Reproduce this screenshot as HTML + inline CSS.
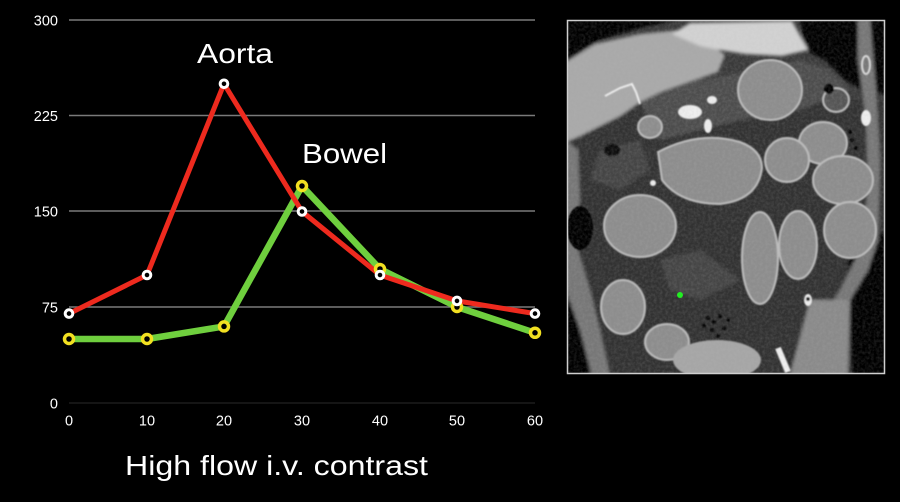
<!DOCTYPE html>
<html><head><meta charset="utf-8"><style>
html,body{margin:0;padding:0;background:#000;}
svg{display:block;}
</style></head><body>
<svg width="900" height="502" viewBox="0 0 900 502" xmlns="http://www.w3.org/2000/svg">
<defs>
<filter id="bl" x="-10%" y="-10%" width="120%" height="120%"><feGaussianBlur stdDeviation="1.6"/></filter>
<filter id="bl2" x="-10%" y="-10%" width="120%" height="120%"><feGaussianBlur stdDeviation="0.8"/></filter>
<filter id="noise" x="0" y="0" width="100%" height="100%">
<feTurbulence type="fractalNoise" baseFrequency="0.35" numOctaves="2" seed="4"/>
<feColorMatrix type="matrix" values="0 0 0 0 0.5  0 0 0 0 0.5  0 0 0 0 0.5  0 0 0 1.2 -0.4"/>
</filter>
<clipPath id="ct"><rect x="568" y="21" width="316" height="352"/></clipPath>
</defs>
<rect width="900" height="502" fill="#000"/>

<!-- grid -->
<g stroke="#7a7a7a" stroke-width="1.5">
<line x1="69" y1="20" x2="535" y2="20"/>
<line x1="69" y1="115.5" x2="535" y2="115.5"/>
<line x1="69" y1="211" x2="535" y2="211"/>
<line x1="69" y1="307" x2="535" y2="307"/>
</g>
<line x1="69" y1="403" x2="535" y2="403" stroke="#1c1c1c" stroke-width="1.5"/>

<!-- y labels -->
<g font-family="'Liberation Sans', Arial, sans-serif" font-size="14.5" fill="#fff" text-anchor="end">
<text x="58" y="25.5">300</text>
<text x="58" y="121">225</text>
<text x="58" y="216.5">150</text>
<text x="58" y="312.5">75</text>
<text x="58" y="408.5">0</text>
</g>
<g font-family="'Liberation Sans', Arial, sans-serif" font-size="14.5" fill="#fff" text-anchor="middle">
<text x="69" y="425.5">0</text>
<text x="147" y="425.5">10</text>
<text x="224" y="425.5">20</text>
<text x="302" y="425.5">30</text>
<text x="380" y="425.5">40</text>
<text x="457" y="425.5">50</text>
<text x="535" y="425.5">60</text>
</g>

<!-- series -->
<polyline points="69,339 147,339 224,326.4 302,186 380,269 457,307 535,332.8" fill="none" stroke="#6fcf3e" stroke-width="6.5" stroke-linejoin="round" stroke-linecap="round"/>
<polyline points="69,313.6 147,275 224,83.8 302,211.5 380,275 457,300.9 535,313.6" fill="none" stroke="#ee2a1e" stroke-width="5" stroke-linejoin="round" stroke-linecap="round"/>
<g fill="#000" stroke="#f2e021" stroke-width="3.5">
<circle cx="69" cy="339" r="4.5"/>
<circle cx="147" cy="339" r="4.5"/>
<circle cx="224" cy="326.4" r="4.5"/>
<circle cx="302" cy="186" r="4.5"/>
<circle cx="380" cy="269" r="4.5"/>
<circle cx="457" cy="307" r="4.5"/>
<circle cx="535" cy="332.8" r="4.5"/>
</g>
<g fill="#000" stroke="#fff" stroke-width="3">
<circle cx="69" cy="313.6" r="3.8"/>
<circle cx="147" cy="275" r="3.8"/>
<circle cx="224" cy="83.8" r="3.8"/>
<circle cx="302" cy="211.5" r="3.8"/>
<circle cx="380" cy="275" r="3.8"/>
<circle cx="457" cy="300.9" r="3.8"/>
<circle cx="535" cy="313.6" r="3.8"/>
</g>

<!-- labels -->
<g font-family="'Liberation Sans', Arial, sans-serif" font-size="28" fill="#fff">
<text x="197" y="63" textLength="76" lengthAdjust="spacingAndGlyphs">Aorta</text>
<text x="302" y="163" textLength="85" lengthAdjust="spacingAndGlyphs">Bowel</text>
<text x="125" y="475" textLength="303" lengthAdjust="spacingAndGlyphs">High flow i.v. contrast</text>
</g>

<!-- CT image -->
<g clip-path="url(#ct)">
<rect x="566" y="19" width="320" height="356" fill="#3a3a3a"/>
<g filter="url(#bl)">
<rect x="566" y="100" width="320" height="275" fill="#313131"/>
<polygon points="566,19 682,19 640,28 600,40 566,62" fill="#000"/>
<polygon points="800,19 862,19 862,90 845,80 825,60 805,50" fill="#000"/>
<polygon points="868,19 886,19 886,95 872,92" fill="#000"/>
<polygon points="848,260 886,230 886,375 852,375 850,320" fill="#000"/>
<polygon points="566,290 576,300 584,340 590,375 566,375" fill="#000"/>
<polygon points="858,20 870,20 876,90 880,160 878,240 868,270 850,300 840,330 835,375 800,375 815,330 840,290 860,250 868,190 866,120 858,60" fill="#777"/>
<polygon points="810,300 850,300 848,375 790,375" fill="#8a8a8a"/>
<polygon points="566,140 578,150 580,200 575,240 590,290 600,330 610,375 592,375 580,330 566,290" fill="#777"/>
<polygon points="566,62 595,44 640,34 680,30 705,40 725,55 718,72 690,82 662,92 640,102 620,116 600,126 580,136 566,142" fill="#a9a9a9"/>
<polygon points="672,34 690,23 792,21 808,50 782,56 745,54 720,50 700,46" fill="#d2d2d2"/>
<polygon points="640,102 700,80 760,70 800,60 830,70 850,90 800,110 740,120 700,130 660,140" fill="#4e4e4e"/>
<polygon points="600,150 640,140 650,170 620,190 590,180" fill="#454545"/>
<polygon points="660,260 700,250 740,280 700,300 670,290" fill="#454545"/>
</g>
<g filter="url(#bl2)">
<g fill="#8d8d8d" stroke="#bdbdbd" stroke-width="2">
<ellipse cx="770" cy="90" rx="32" ry="30"/>
<path d="M658,152 Q700,130 740,142 Q762,150 762,168 Q758,200 720,204 Q680,204 662,180 Z"/>
<ellipse cx="823" cy="143" rx="24" ry="21"/>
<ellipse cx="787" cy="160" rx="22" ry="22"/>
<ellipse cx="843" cy="180" rx="30" ry="24"/>
<ellipse cx="850" cy="230" rx="26" ry="28"/>
<ellipse cx="760" cy="258" rx="18" ry="46"/>
<ellipse cx="798" cy="245" rx="19" ry="34"/>
<ellipse cx="640" cy="226" rx="36" ry="31"/>
<ellipse cx="623" cy="307" rx="22" ry="27"/>
<ellipse cx="667" cy="342" rx="22" ry="18"/>
<ellipse cx="650" cy="127" rx="12" ry="11"/>
<ellipse cx="836" cy="100" rx="13" ry="12" fill="#555"/>
</g>
<ellipse cx="717" cy="360" rx="44" ry="20" fill="#a6a6a6"/>
<ellipse cx="580" cy="228" rx="13" ry="22" fill="#050505"/>
<ellipse cx="612" cy="150" rx="8" ry="6" fill="#111"/>
<ellipse cx="829" cy="89" rx="5" ry="5" fill="#000"/>
<g fill="#000">
<circle cx="708" cy="318" r="2"/><circle cx="714" cy="322" r="2"/><circle cx="720" cy="316" r="2"/>
<circle cx="712" cy="330" r="2"/><circle cx="724" cy="328" r="2"/><circle cx="704" cy="326" r="2"/>
<circle cx="718" cy="336" r="1.8"/><circle cx="728" cy="320" r="1.8"/>
<circle cx="852" cy="140" r="2"/><circle cx="856" cy="148" r="2"/><circle cx="850" cy="132" r="2"/>
</g>
<g fill="#eee">
<ellipse cx="690" cy="112" rx="12" ry="7"/>
<ellipse cx="712" cy="100" rx="5" ry="4"/>
<ellipse cx="708" cy="126" rx="4" ry="7"/>
<ellipse cx="653" cy="183" rx="3" ry="3"/>
<ellipse cx="866" cy="65" rx="4" ry="9" fill="none" stroke="#ddd" stroke-width="2"/>
<ellipse cx="866" cy="118" rx="5" ry="8"/>
<ellipse cx="808" cy="300" rx="4" ry="6"/>
</g>
<polyline points="605,96 620,88 632,84 636,92 640,104" fill="none" stroke="#eee" stroke-width="2"/>
<line x1="778" y1="348" x2="788" y2="372" stroke="#f0f0f0" stroke-width="6"/>
<circle cx="808" cy="299" r="2" fill="#000"/>
</g>
<rect x="566" y="19" width="320" height="356" filter="url(#noise)" opacity="0.25"/>
<circle cx="680" cy="295" r="3" fill="#22ee22"/>
</g>
<rect x="567.5" y="20.5" width="317" height="353" fill="none" stroke="#cfcfcf" stroke-width="1.5"/>
</svg>
</body></html>
